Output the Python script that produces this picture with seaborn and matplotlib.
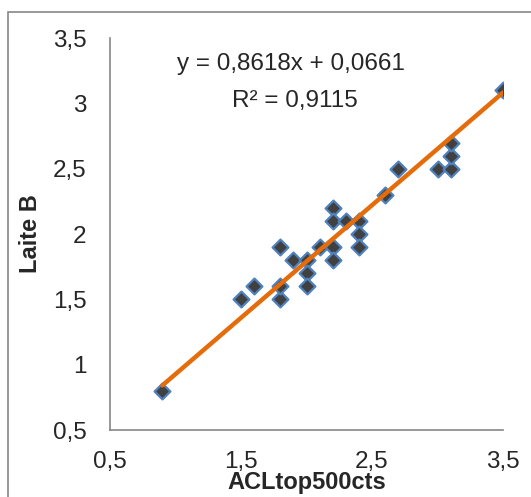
import matplotlib
matplotlib.use("Agg")
import matplotlib.pyplot as plt
from matplotlib.patches import Rectangle
from matplotlib.ticker import FuncFormatter
import numpy as np
import pandas as pd
import seaborn as sns

acl_top500 = [0.9, 1.5, 1.6, 1.8, 1.8, 1.8, 1.9, 2.0, 2.0, 2.0, 2.1, 2.2, 2.2,
              2.2, 2.2, 2.3, 2.4, 2.4, 2.4, 2.6, 2.7, 3.0, 3.1, 3.1, 3.1, 3.5]
laite_b = [0.8, 1.5, 1.6, 1.5, 1.6, 1.9, 1.8, 1.8, 1.7, 1.6, 1.9, 2.2, 2.1,
           1.9, 1.8, 2.1, 2.1, 2.0, 1.9, 2.3, 2.5, 2.5, 2.5, 2.6, 2.7, 3.1]
x_ticks = [0.5, 1.5, 2.5, 3.5]
y_ticks = [0.5, 1.0, 1.5, 2.0, 2.5, 3.0, 3.5]
# linear trendline as reported on the chart
trend_slope = 0.8618
trend_intercept = 0.0661
trend_r2 = 0.9115


def fr(v, digits):
    return f"{v:.{digits}f}".replace(".", ",")


df = pd.DataFrame({"ACLtop500cts": acl_top500, "Laite B": laite_b})
trend_x = np.array([min(acl_top500), max(acl_top500)])
trend = pd.DataFrame({"x": trend_x, "y": trend_slope * trend_x + trend_intercept})

sns.set_style("white")
plt.rcParams["font.family"] = ["Liberation Sans", "DejaVu Sans"]

fig = plt.figure(figsize=(5.31, 4.97), dpi=100)
ax = fig.add_axes([0.2072, 0.1348, 0.7401, 0.7887])

sns.scatterplot(
    data=df, x="ACLtop500cts", y="Laite B", marker="D", s=65,
    color="#404040", edgecolor="#4F81BD", linewidth=1.6, zorder=3, ax=ax,
)
sns.lineplot(data=trend, x="x", y="y", color="#E46C0A", linewidth=3.2,
             zorder=4, ax=ax)

ax.set_xlim(0.5, 3.5)
ax.set_ylim(0.5, 3.5)
ax.set_xticks(x_ticks)
ax.set_yticks(y_ticks)
comma = FuncFormatter(lambda v, _: f"{v:g}".replace(".", ","))
ax.xaxis.set_major_formatter(comma)
ax.yaxis.set_major_formatter(comma)
ax.tick_params(axis="y", length=0, labelsize=17.5, pad=17)
ax.tick_params(axis="x", length=0, labelsize=17.5, pad=15)

for side in ["top", "right"]:
    ax.spines[side].set_visible(False)
for side in ["left", "bottom"]:
    ax.spines[side].set_color("#868686")
    ax.spines[side].set_linewidth(1.2)

ax.set_xlabel("ACLtop500cts", fontsize=17, fontweight="bold", labelpad=-1)
ax.set_ylabel("Laite B", fontsize=17, fontweight="bold", labelpad=8)

ax.text(0.46, 0.934, f"y = {fr(trend_slope, 4)}x + {fr(trend_intercept, 4)}",
        transform=ax.transAxes, ha="center", va="center", fontsize=17.5)
ax.text(0.471, 0.839, f"R² = {fr(trend_r2, 4)}", transform=ax.transAxes,
        ha="center", va="center", fontsize=17.5)

# chart area border
fig.patches.append(Rectangle((8 / 531, -0.1), 1.1, 1 - 12 / 497 + 0.1,
                             transform=fig.transFigure, fill=False,
                             edgecolor="#868686", linewidth=1.2))

fig.savefig("out.png", dpi=100)
plt.close(fig)
